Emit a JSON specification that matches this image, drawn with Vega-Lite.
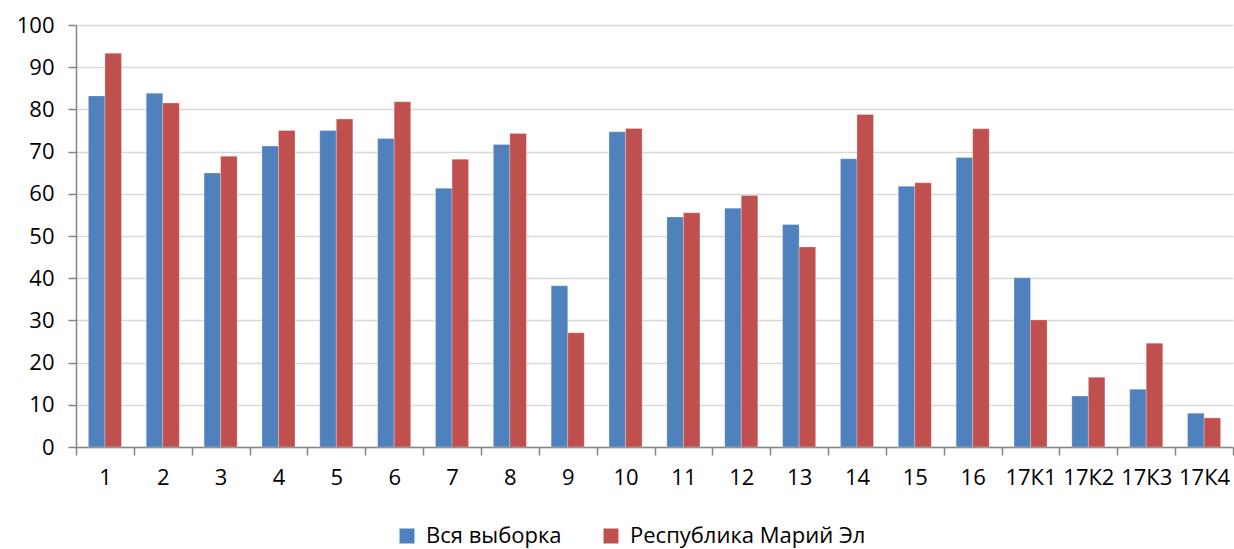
{
  "$schema": "https://vega.github.io/schema/vega-lite/v6.json",
  "width": 1157,
  "height": 422,
  "autosize": {"type": "none"},
  "padding": {"left": 76, "top": 25, "right": 1, "bottom": 102},
  "background": "white",
  "config": {
    "font": "Open Sans",
    "view": {"stroke": null}
  },
  "data": {
    "values": [
      {"q": "1", "s": "Вся выборка", "v": 83.2}, {"q": "1", "s": "Республика Марий Эл", "v": 93.3},
      {"q": "2", "s": "Вся выборка", "v": 83.8}, {"q": "2", "s": "Республика Марий Эл", "v": 81.5},
      {"q": "3", "s": "Вся выборка", "v": 64.9}, {"q": "3", "s": "Республика Марий Эл", "v": 68.9},
      {"q": "4", "s": "Вся выборка", "v": 71.3}, {"q": "4", "s": "Республика Марий Эл", "v": 75.0},
      {"q": "5", "s": "Вся выборка", "v": 75.0}, {"q": "5", "s": "Республика Марий Эл", "v": 77.7},
      {"q": "6", "s": "Вся выборка", "v": 73.1}, {"q": "6", "s": "Республика Марий Эл", "v": 81.8},
      {"q": "7", "s": "Вся выборка", "v": 61.3}, {"q": "7", "s": "Республика Марий Эл", "v": 68.2},
      {"q": "8", "s": "Вся выборка", "v": 71.7}, {"q": "8", "s": "Республика Марий Эл", "v": 74.3},
      {"q": "9", "s": "Вся выборка", "v": 38.2}, {"q": "9", "s": "Республика Марий Эл", "v": 27.1},
      {"q": "10", "s": "Вся выборка", "v": 74.7}, {"q": "10", "s": "Республика Марий Эл", "v": 75.5},
      {"q": "11", "s": "Вся выборка", "v": 54.5}, {"q": "11", "s": "Республика Марий Эл", "v": 55.5},
      {"q": "12", "s": "Вся выборка", "v": 56.6}, {"q": "12", "s": "Республика Марий Эл", "v": 59.6},
      {"q": "13", "s": "Вся выборка", "v": 52.7}, {"q": "13", "s": "Республика Марий Эл", "v": 47.4},
      {"q": "14", "s": "Вся выборка", "v": 68.3}, {"q": "14", "s": "Республика Марий Эл", "v": 78.8},
      {"q": "15", "s": "Вся выборка", "v": 61.8}, {"q": "15", "s": "Республика Марий Эл", "v": 62.6},
      {"q": "16", "s": "Вся выборка", "v": 68.6}, {"q": "16", "s": "Республика Марий Эл", "v": 75.4},
      {"q": "17К1", "s": "Вся выборка", "v": 40.1}, {"q": "17К1", "s": "Республика Марий Эл", "v": 30.1},
      {"q": "17К2", "s": "Вся выборка", "v": 12.1}, {"q": "17К2", "s": "Республика Марий Эл", "v": 16.5},
      {"q": "17К3", "s": "Вся выборка", "v": 13.7}, {"q": "17К3", "s": "Республика Марий Эл", "v": 24.6},
      {"q": "17К4", "s": "Вся выборка", "v": 8.0}, {"q": "17К4", "s": "Республика Марий Эл", "v": 6.9}
    ]
  },
  "mark": {"type": "bar", "stroke": "white", "strokeOpacity": 0.5, "strokeWidth": 0.5},
  "encoding": {
    "x": {
      "field": "q", "type": "nominal", "sort": null,
      "scale": {"paddingInner": 0, "paddingOuter": 0},
      "axis": {"title": null, "labelAngle": 0, "tickBand": "extent", "labelPadding": 12, "grid": false, "labelFlush": false, "labelFont": "Open Sans", "labelFontSize": 22, "labelColor": "#000000", "domainColor": "#868686", "tickColor": "#868686", "tickSize": 8, "domainWidth": 1.5, "tickWidth": 1.5}
    },
    "xOffset": {
      "field": "s", "type": "nominal",
      "scale": {"paddingInner": 0, "paddingOuter": 0.75}
    },
    "y": {
      "field": "v", "type": "quantitative",
      "scale": {"domain": [0, 100], "nice": false},
      "axis": {"title": null, "values": [0, 10, 20, 30, 40, 50, 60, 70, 80, 90, 100], "grid": true, "gridColor": "#D9D9D9", "gridWidth": 1.5, "labelPadding": 14, "labelFont": "Open Sans", "labelFontSize": 22, "labelColor": "#000000", "domainColor": "#868686", "tickColor": "#868686", "tickSize": 8, "domainWidth": 1.5, "tickWidth": 1.5}
    },
    "color": {
      "field": "s", "type": "nominal",
      "scale": {"domain": ["Вся выборка", "Республика Марий Эл"], "range": ["#4F81BD", "#C0504D"]},
      "legend": {"title": null, "orient": "none", "legendX": 320, "legendY": 500, "direction": "horizontal", "symbolType": "square", "symbolSize": 225, "symbolStrokeWidth": 0, "labelFontSize": 22, "labelFont": "Open Sans", "labelColor": "#000000", "labelOffset": 8, "columnPadding": 38, "labelLimit": 400}
    }
  }
}
